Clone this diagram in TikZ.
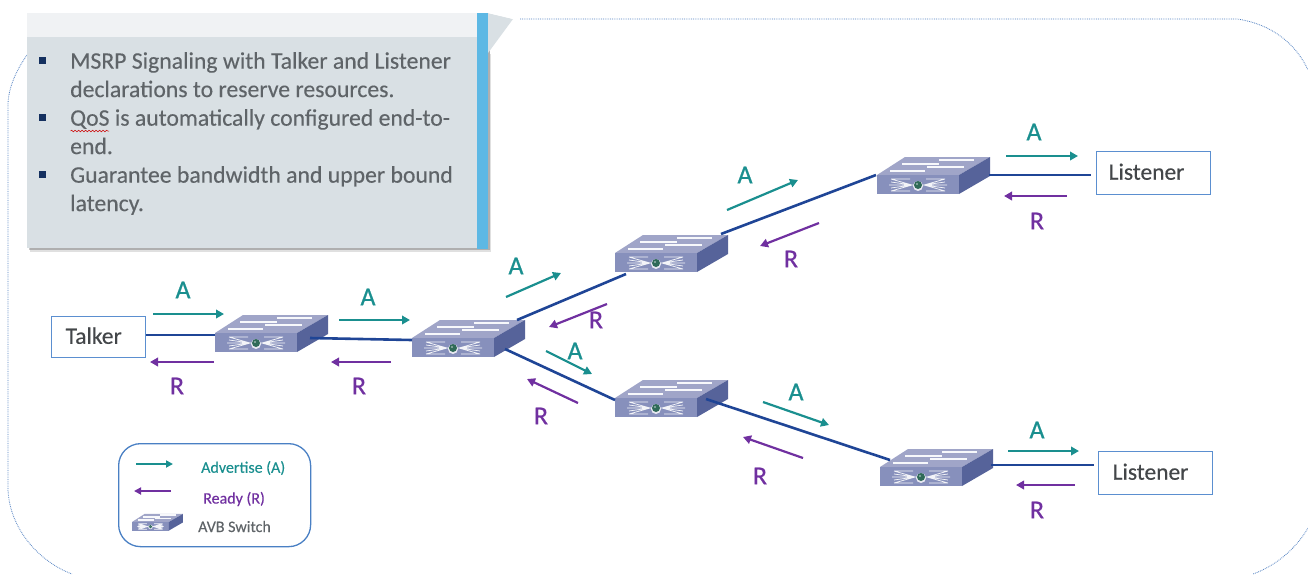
\documentclass[tikz,border=0pt]{standalone}
\usepackage{fontspec}
\setmainfont{Carlito}
\newfontfamily\lblfont[FakeBold=0.7]{Carlito}
\newfontfamily\bodyfont[FakeBold=0.25]{Carlito}
\usetikzlibrary{arrows.meta,decorations.pathmorphing}
\definecolor{tealc}{HTML}{1A8F8F}
\definecolor{purp}{HTML}{7030A0}
\definecolor{linkb}{HTML}{1F4596}
\definecolor{boxb}{HTML}{5B8FD0}
\definecolor{legb}{HTML}{4A80C4}
\definecolor{dots}{HTML}{4F7FC0}
\definecolor{panel}{HTML}{D9E0E4}
\definecolor{panellt}{HTML}{F0F2F4}
\definecolor{barb}{HTML}{5DB8E4}
\definecolor{txt}{HTML}{5F6468}
\definecolor{navy}{HTML}{14305F}
\definecolor{swtop}{HTML}{A0A5C8}
\definecolor{swfront}{HTML}{8790BC}
\definecolor{swside}{HTML}{56639A}
\definecolor{swdot}{HTML}{2F6A58}
\tikzset{
  x=1pt,y=-1pt,
  link/.style={draw=linkb,line width=2.6pt},
  flowA/.style={draw=tealc,line width=2.2pt,-{Triangle[length=8pt,width=8.5pt]}},
  flowR/.style={draw=purp,line width=2.2pt,-{Triangle[length=8pt,width=8.5pt]}},
  lblA/.style={text=tealc,font=\lblfont\fontsize{26}{26}\selectfont,inner sep=0pt},
  lblR/.style={text=purp,font=\lblfont\fontsize{26}{26}\selectfont,inner sep=0pt},
  endbox/.style={draw=boxb,line width=1.3pt,fill=white,text=txt!70!black,font=\bodyfont\fontsize{23.5}{23.5}\selectfont,inner ysep=0pt,align=left,anchor=north west},
  bulletmark/.style={fill=navy,minimum size=7pt,inner sep=0pt},
  bullettext/.style={text=txt,font=\bodyfont\fontsize{23.7}{28.4}\selectfont,align=left,anchor=north west,inner sep=0pt},
  legtext/.style={font=\bodyfont\fontsize{16}{16}\selectfont,inner sep=0pt},
  avbswitch/.pic={
    \fill[swtop] (0,0) -- (82,0) -- (113,-18) -- (28,-18) -- cycle;
    \fill[swfront] (0,0) rectangle (82,19);
    \fill[swside] (82,0) -- (113,-18) -- (113,1) -- (82,19) -- cycle;
    \draw[white,line width=.75pt,opacity=.9]
      (14,4) -- (35,10) -- (14,16) (14,7) -- (35,10) -- (14,13)
      (68,4) -- (47,10) -- (68,16) (68,7) -- (47,10) -- (68,13)
      (14,4) -- (33,4) (49,4) -- (68,4) (14,16) -- (33,16) (49,16) -- (68,16)
      (12,10) -- (70,10);
    \draw[white!92!swtop,line width=1.7pt]
      (25,-11) -- (62,-11) (62,-15) -- (97,-15)
      (13,-4) -- (48,-4) (50,-8) -- (87,-8);
    \fill[white,opacity=.8] (41,11) circle[radius=5];
    \fill[swdot] (41,10) circle[radius=4];
    \fill[white,opacity=.5] (40,9) circle[radius=1.2];
  }
}
\newcommand{\flow}[4]{%
  \coordinate (#2-a) at (#3);\coordinate (#2-b) at (#4);
  \draw[#1] (#2-a) -- (#2-b);}
\begin{document}
\begin{tikzpicture}
\useasboundingbox (0,0) rectangle (1308,574);
% dotted outline
\coordinate (o1) at (513,19);
\coordinate (o2) at (1237,19);
\coordinate (o3) at (1308,70);
\coordinate (o4) at (27,55);
\coordinate (o5) at (8,105);
\coordinate (o6) at (8,490);
\coordinate (o7) at (72,574);
\coordinate (o8) at (1308,528);
\coordinate (o9) at (1253,574);
\draw[dots,densely dotted,line width=.8pt] (o1) -- (o2) .. controls (1272,24) and (1296,44) .. (o3);
\draw[dots,densely dotted,line width=.8pt] (o4) .. controls (15,72) and (8,90) .. (o5) -- (o6) .. controls (10,530) and (40,562) .. (o7);
\draw[dots,densely dotted,line width=.8pt] (o8) .. controls (1295,550) and (1275,566) .. (o9);
% panel
\fill[black,opacity=.12] (30,16) rectangle (491,252);
\fill[black,opacity=.22] (29,16) rectangle (489.5,250);
\fill[panel] (27,37) rectangle (477,248);
\fill[panellt] (27,13) rectangle (477,37);
\fill[barb] (477,13) rectangle (488,249);
\fill[white] (489.5,13) rectangle (520,54);
\fill[panel] (488,13) -- (513,19) -- (488,53) -- cycle;
\fill[white] (488,13) -- (513,13) -- (513,19) -- cycle;
\node[bulletmark] (b1) at (42,60) {};
\node[bulletmark] (b2) at (42,117) {};
\node[bulletmark] (b3) at (42,174) {};
\node[bullettext] (t1) at (70,52) {MSRP Signaling with Talker and Listener\\declarations to reserve resources.};
\node[bullettext] (t2) at (70,109) {QoS is automatically configured end-to-\\end.};
\node[bullettext] (t3) at (70,166) {Guarantee bandwidth and upper bound\\latency.};
\coordinate (sq1) at (70.5,131);
\coordinate (sq2) at (109,131);
\draw[red!80!black,line width=.5pt,decorate,decoration={snake,amplitude=.8pt,segment length=3.5pt}] (sq1) -- (sq2);
% switches
\pic at (215,333) {avbswitch};
\pic at (412,338) {avbswitch};
\pic at (615,253) {avbswitch};
\pic at (615,398) {avbswitch};
\pic at (877,175) {avbswitch};
\pic at (880,467) {avbswitch};
% end boxes
\node[endbox,inner xsep=14pt,text width=66pt,minimum height=41pt,text depth=3pt] (talker) at (51,316) {Talker};
\node[endbox,inner xsep=12pt,text width=90pt,minimum height=43pt,text depth=3pt] (l1) at (1096,151) {Listener};
\node[endbox,inner xsep=14pt,text width=86pt,minimum height=43pt,text depth=3pt] (l2) at (1098,451) {Listener};
% links
\coordinate (te) at (146,335);
\coordinate (s1w) at (215,335);
\coordinate (s1e) at (310,338);
\coordinate (s2w) at (412,340);
\coordinate (s2ne) at (517,320);
\coordinate (s3low) at (626,274);
\coordinate (s2se) at (505,349);
\coordinate (s4w) at (615,400);
\coordinate (s3e) at (721,234);
\coordinate (s5w) at (876,175);
\coordinate (s4e) at (706,399);
\coordinate (s6w) at (890,460);
\coordinate (s5e) at (989,175);
\coordinate (l1w) at (1091,175);
\coordinate (s6e) at (991,465);
\coordinate (l2w) at (1094,465);
\draw[link] (te) -- (s1w);
\draw[link] (s1e) -- (s2w);
\draw[link] (s2ne) -- (s3low);
\draw[link] (s2se) -- (s4w);
\draw[link] (s3e) -- (s5w);
\draw[link] (s4e) -- (s6w);
\draw[link] (s5e) -- (l1w);
\draw[link] (s6e) -- (l2w);
% flows
\flow{flowA}{a1}{153,314}{224,314}
\flow{flowR}{r1}{214,362}{150,362}
\flow{flowA}{a2}{339,320}{410,320}
\flow{flowR}{r2}{391,362}{331,362}
\flow{flowA}{a3}{506,297}{561,273}
\flow{flowR}{r3}{607,304}{549,327}
\flow{flowA}{a4}{546,351}{592,374}
\flow{flowR}{r4}{578,403}{527,379}
\flow{flowA}{a5}{727,210}{798,180}
\flow{flowR}{r5}{819,223}{760,246}
\flow{flowA}{a6}{763,402}{829,425}
\flow{flowR}{r6}{803,458}{743,437}
\flow{flowA}{a7}{1006,156}{1078,156}
\flow{flowR}{r7}{1067,196}{1004,196}
\flow{flowA}{a8}{1008,451}{1079,451}
\flow{flowR}{r8}{1075,485}{1016,485}
% labels
\node[lblA] (la1) at (183,290) {A};
\node[lblR] (lr1) at (177,386) {R};
\node[lblA] (la2) at (368,297) {A};
\node[lblR] (lr2) at (359,386) {R};
\node[lblA] (la3) at (516,266) {A};
\node[lblR] (lr3) at (596,320) {R};
\node[lblA] (la4) at (575,351) {A};
\node[lblR] (lr4) at (541,416) {R};
\node[lblA] (la5) at (745,175) {A};
\node[lblR] (lr5) at (791,259) {R};
\node[lblA] (la6) at (796,392) {A};
\node[lblR] (lr6) at (760,476) {R};
\node[lblA] (la7) at (1034,132) {A};
\node[lblR] (lr7) at (1037,221) {R};
\node[lblA] (la8) at (1037,430) {A};
\node[lblR] (lr8) at (1037,510) {R};
% legend
\node[draw=legb,line width=1.3pt,rounded corners=22pt,minimum width=192pt,minimum height=103pt,inner sep=0pt,anchor=north west] (legend) at (118,443) {};
\flow{flowA,line width=1.8pt,-{Triangle[length=7pt,width=7pt]}}{la}{136,464}{173,464}
\flow{flowR,line width=1.8pt,-{Triangle[length=7pt,width=7pt]}}{lb}{171,491}{134,491}
\node[legtext,text=tealc,anchor=west] (leg1) at (201,468) {Advertise (A)};
\node[legtext,text=purp,anchor=west] (leg2) at (203,499) {Ready (R)};
\node[legtext,text=txt,anchor=west] (leg3) at (198,526.5) {AVB Switch};
\pic[scale=.45] at (132,522) {avbswitch};
\end{tikzpicture}
\end{document}
